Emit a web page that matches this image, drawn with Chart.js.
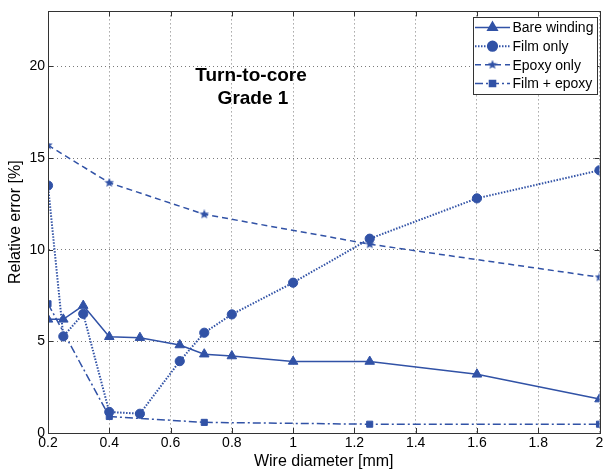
<!DOCTYPE html>
<html>
<head>
<meta charset="utf-8">
<script src="https://cdn.jsdelivr.net/npm/chart.js@4.4.1/dist/chart.umd.min.js"></script>
<style>
html,body{margin:0;padding:0;background:#fff;}
#wrap{width:606px;height:471px;}
</style>
</head>
<body>
<div id="wrap"><canvas id="c" width="606" height="471"></canvas></div>
<script>
// ---- data ----
const seriesNames = ["Bare winding", "Film only", "Epoxy only", "Film + epoxy"];
const bareX  = [0.2, 0.25, 0.315, 0.4, 0.5, 0.63, 0.71, 0.8, 1.0, 1.25, 1.6, 2.0];
const bareY  = [6.2, 6.2, 6.95, 5.25, 5.2, 4.8, 4.3, 4.2, 3.9, 3.9, 3.2, 1.85];
const filmX  = [0.2, 0.25, 0.315, 0.4, 0.5, 0.63, 0.71, 0.8, 1.0, 1.25, 1.6, 2.0];
const filmY  = [13.5, 5.27, 6.5, 1.15, 1.05, 3.92, 5.47, 6.47, 8.2, 10.6, 12.8, 14.33];
const epoxyX = [0.2, 0.4, 0.71, 1.25, 2.0];
const epoxyY = [15.7, 13.65, 11.93, 10.3, 8.5];
const fpeX   = [0.2, 0.4, 0.71, 1.25, 2.0];
const fpeY   = [7.05, 0.9, 0.58, 0.48, 0.48];
const xTicks = [0.2, 0.4, 0.6, 0.8, 1.0, 1.2, 1.4, 1.6, 1.8, 2.0];
const xTickLabels = ["0.2", "0.4", "0.6", "0.8", "1", "1.2", "1.4", "1.6", "1.8", "2"];
const yTicks = [0, 5, 10, 15, 20];
const yTickLabels = ["0", "5", "10", "15", "20"];
const annotationLines = ["Turn-to-core", "Grade 1"];

const FONT = "'Liberation Sans', Arial, Helvetica, sans-serif";
const BLUE = '#3152a6';

function pts(xs, ys) { return xs.map((x, i) => ({x: x, y: ys[i]})); }

function makeStar(size) {
  const c = document.createElement('canvas');
  c.width = size; c.height = size;
  const g = c.getContext('2d');
  const cx = size / 2, cy = size / 2, ro = size / 2, ri = ro * 0.45;
  g.beginPath();
  for (let k = 0; k < 10; k++) {
    const r = k % 2 === 0 ? ro : ri;
    const a = -Math.PI / 2 + k * Math.PI / 5;
    const px = cx + r * Math.cos(a), py = cy + r * Math.sin(a);
    if (k === 0) g.moveTo(px, py); else g.lineTo(px, py);
  }
  g.closePath();
  g.fillStyle = BLUE;
  g.fill();
  return c;
}
const starImg = makeStar(10);

const datasets = [
  {label: seriesNames[0], data: pts(bareX, bareY), borderColor: BLUE, backgroundColor: BLUE,
   borderWidth: 1.5, borderDash: [], pointStyle: 'triangle', pointRadius: 5.5, pointBorderWidth: 1},
  {label: seriesNames[1], data: pts(filmX, filmY), borderColor: BLUE, backgroundColor: BLUE,
   borderWidth: 2, borderDash: [1.5, 1.5], pointStyle: 'circle', pointRadius: 4.6, pointBorderWidth: 1},
  {label: seriesNames[2], data: pts(epoxyX, epoxyY), borderColor: BLUE, backgroundColor: BLUE,
   borderWidth: 1.5, borderDash: [6, 4], pointStyle: starImg, pointRadius: 5, pointBorderWidth: 0},
  {label: seriesNames[3], data: pts(fpeX, fpeY), borderColor: BLUE, backgroundColor: BLUE,
   borderWidth: 1.5, borderDash: [8, 3, 2, 3], pointStyle: 'rect', pointRadius: 4.3, pointBorderWidth: 1}
];

const boxPlugin = {
  id: 'boxPlugin',
  afterDraw(chart) {
    const ctx = chart.ctx;
    const a = chart.chartArea;
    const xs = chart.scales.x, ys = chart.scales.y;
    ctx.save();
    // box
    ctx.strokeStyle = '#333';
    ctx.lineWidth = 1;
    ctx.setLineDash([]);
    ctx.strokeRect(Math.round(a.left) + 0.5, Math.round(a.top) + 0.5,
                   Math.round(a.right - a.left), Math.round(a.bottom - a.top));
    // inward tick marks
    ctx.beginPath();
    xTicks.forEach(v => {
      const px = Math.round(xs.getPixelForValue(v)) + 0.5;
      ctx.moveTo(px, a.bottom); ctx.lineTo(px, a.bottom - 5);
      ctx.moveTo(px, a.top); ctx.lineTo(px, a.top + 5);
    });
    yTicks.forEach(v => {
      const py = Math.round(ys.getPixelForValue(v)) + 0.5;
      ctx.moveTo(a.left, py); ctx.lineTo(a.left + 5, py);
      ctx.moveTo(a.right, py); ctx.lineTo(a.right - 5, py);
    });
    ctx.stroke();

    // annotation text
    ctx.fillStyle = '#000';
    ctx.font = 'bold 19px ' + FONT;
    ctx.textAlign = 'center';
    ctx.textBaseline = 'middle';
    ctx.fillText(annotationLines[0], 251, 76);
    ctx.fillText(annotationLines[1], 253, 99);

    // legend
    const lx = 473, ly = 17, lw = 124, lh = 77;
    ctx.fillStyle = '#fff';
    ctx.fillRect(lx, ly, lw, lh);
    ctx.strokeStyle = '#333';
    ctx.strokeRect(lx + 0.5, ly + 0.5, lw, lh);
    const rows = [27.5, 46.2, 64.8, 83.5];
    chart.data.datasets.forEach((ds, i) => {
      const y = rows[i];
      ctx.save();
      ctx.strokeStyle = ds.borderColor;
      ctx.lineWidth = ds.borderWidth;
      ctx.setLineDash(ds.borderDash);
      ctx.beginPath();
      ctx.moveTo(475, y); ctx.lineTo(510, y);
      ctx.stroke();
      ctx.setLineDash([]);
      ctx.fillStyle = ds.backgroundColor;
      ctx.strokeStyle = ds.borderColor;
      Chart.helpers.drawPoint(ctx, {pointStyle: ds.pointStyle, rotation: 0,
        radius: ds.pointRadius, borderWidth: ds.pointBorderWidth}, 492.5, y);
      ctx.restore();
      ctx.fillStyle = '#000';
      ctx.font = '14px ' + FONT;
      ctx.textAlign = 'left';
      ctx.textBaseline = 'middle';
      ctx.fillText(ds.label, 512.5, y + 1);
    });
    ctx.restore();
  }
};

new Chart(document.getElementById('c'), {
  type: 'line',
  data: {datasets: datasets},
  plugins: [boxPlugin],
  options: {
    responsive: false,
    devicePixelRatio: 1,
    animation: false,
    layout: {padding: {top: 11, right: 3, left: 0, bottom: 0}},
    plugins: {legend: {display: false}, tooltip: {enabled: false}},
    elements: {line: {tension: 0, fill: false}},
    scales: {
      x: {
        type: 'linear', min: 0.2, max: 2,
        afterBuildTicks: s => { s.ticks = xTicks.map(v => ({value: v})); },
        afterFit: s => { s.height = 38; },
        ticks: {
          autoSkip: false, maxRotation: 0, padding: 2, color: '#000',
          font: {family: FONT, size: 14},
          callback: (v, i) => xTickLabels[i]
        },
        grid: {color: '#7a7a7a', lineWidth: 1, drawTicks: false},
        border: {display: true, color: '#333', width: 1, dash: [1, 3]},
        title: {display: true, text: 'Wire diameter [mm]', color: '#000',
                font: {family: FONT, size: 16}, padding: {top: 0, bottom: 0}}
      },
      y: {
        type: 'linear', min: 0, max: 23,
        afterBuildTicks: s => { s.ticks = yTicks.map(v => ({value: v})); },
        afterFit: s => { s.width = 48; },
        ticks: {
          autoSkip: false, padding: 3, color: '#000',
          font: {family: FONT, size: 14},
          callback: (v, i) => yTickLabels[i]
        },
        grid: {color: '#7a7a7a', lineWidth: 1, drawTicks: false},
        border: {display: true, color: '#333', width: 1, dash: [1, 3]},
        title: {display: true, text: 'Relative error [%]', color: '#000',
                font: {family: FONT, size: 16}, padding: {top: 6, bottom: 0}}
      }
    }
  }
});
</script>
</body>
</html>
